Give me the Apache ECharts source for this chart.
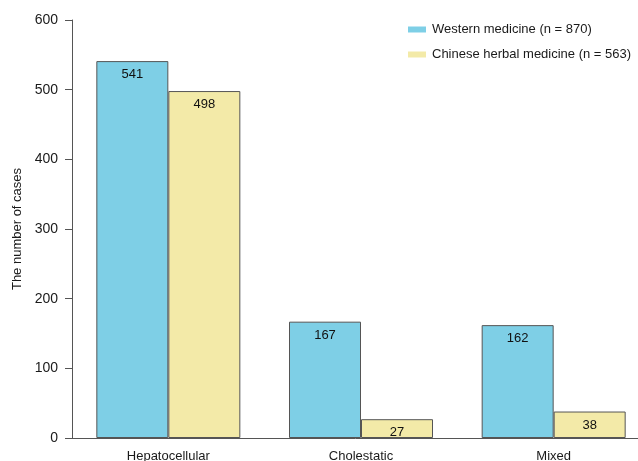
<!DOCTYPE html>
<html><head><meta charset="utf-8">
<script src="https://cdn.jsdelivr.net/npm/echarts@6/dist/echarts.min.js"></script>
<style>html,body{margin:0;padding:0;background:#fff}#c{width:638px;height:461px}</style>
</head><body><div id="c"></div>
<script>
const categories = ['Hepatocellular', 'Cholestatic', 'Mixed'];
const westernValues = [541, 167, 162];
const chineseValues = [498, 27, 38];
const seriesNames = ['Western medicine (n = 870)', 'Chinese herbal medicine (n = 563)'];
const yTicks = [0, 100, 200, 300, 400, 500, 600];

const font = 'Liberation Sans, Arial, Helvetica, sans-serif';
const chart = echarts.init(document.getElementById('c'));
const labelStyle = {show: true, position: 'insideTop', distance: 7, color: '#111', fontSize: 13, fontFamily: font};
chart.setOption({
  animation: false,
  grid: {left: 72, top: 20, right: -12, bottom: 23, containLabel: false, outerBoundsMode: 'none'},
  legend: {
    left: 408, top: 23, orient: 'vertical', itemWidth: 18, itemHeight: 6, itemGap: 12,
    icon: 'rect', padding: 0,
    itemStyle: {borderWidth: 0},
    textStyle: {fontSize: 13, fontFamily: font, color: '#1a1a1a', padding: [0,0,0,1]},
    data: seriesNames
  },
  xAxis: {
    type: 'category', data: categories,
    axisLine: {lineStyle: {color: '#555', width: 1}},
    axisTick: {show: false},
    axisLabel: {fontSize: 13, fontFamily: font, color: '#1a1a1a', margin: 12}
  },
  yAxis: {
    type: 'value', min: yTicks[0], max: yTicks[yTicks.length-1], interval: 100,
    name: 'The number of cases', nameLocation: 'middle', nameGap: 47, nameRotate: 90,
    nameTextStyle: {fontSize: 13, fontFamily: font, color: '#1a1a1a'},
    axisLine: {show: true, lineStyle: {color: '#555', width: 1}},
    axisTick: {show: true, length: 7, lineStyle: {color: '#555'}},
    axisLabel: {fontSize: 14, fontFamily: font, color: '#1a1a1a', margin: 14},
    splitLine: {show: false}
  },
  series: [
    {name: seriesNames[0], type: 'bar', data: westernValues, barWidth: 72, barGap: '0%',
     itemStyle: {color: '#7ecfe6', borderColor: '#555', borderWidth: 1}, label: labelStyle},
    {name: seriesNames[1], type: 'bar', data: chineseValues, barWidth: 72,
     itemStyle: {color: '#f3eaa8', borderColor: '#555', borderWidth: 1}, label: labelStyle}
  ]
});
</script></body></html>
